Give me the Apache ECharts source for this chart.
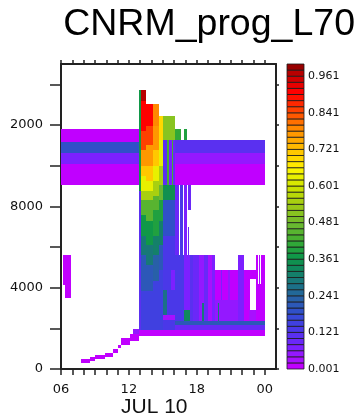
<!DOCTYPE html>
<html><head><meta charset="utf-8">
<script src="https://cdn.jsdelivr.net/npm/echarts@6/dist/echarts.min.js"></script>
<style>html,body{margin:0;padding:0;background:#fff}#c{width:362px;height:418px}</style>
</head><body><div id="c"></div>
<script>
// ---- tick labels ----
const xTickHours = [6,7,8,9,10,11,12,13,14,15,16,17,18,19,20,21,22,23,24];
const xLabelHours = [6,12,18,24];
const xLabelText = ['06','12','18','00'];
const yTickValues = [0,2000,4000,6000,8000,10000,12000,14000];
const yLabelValues = [0,4000,8000,12000];
const yLabelText = ['0','4000','8000','2000'];
const cbLabelIndex = [0,6,12,18,24,30,36,42,48];
const cbLabelText = ['0.001','0.121','0.241','0.361','0.481','0.601','0.721','0.841','0.961'];
const cbColors = ['#c000ff','#a810ff','#9418ff','#7c20ff','#6a28f8','#5a30f0','#4a38e8','#4040e0','#3848d8','#3050c8',
 '#2c58b8','#2860a8','#226898','#1c7088','#187878','#14806a','#10885c','#109050','#109848','#20a040',
 '#30a838','#48b030','#58b430','#68b830','#78bc28','#88c420','#98c818','#a8d010','#b8d808','#c8e000',
 '#d8e800','#e8f000','#f8f400','#ffe800','#ffd800','#ffc800','#ffb800','#ffa800','#ff9800','#ff8800',
 '#ff7000','#ff5800','#ff4000','#ff2800','#ff1000','#ff0000','#e80000','#d00000','#b80000','#980000'];
const cbBands = [0,1,2,3,4,5,6,7,8,9,10,11,12,13,14,15,16,17,18,19,20,21,22,23,24,25,26,27,28,29,30,31,32,33,34,35,36,37,38,39,40,41,42,43,44,45,46,47,48,49];

// ---- cells: [hourStart, hourEnd, zBottom(m), zTop(m), cloud fraction] ----
const leftBlob = [
 [6.2,6.9,4120,5590,0.01],
 [6.35,6.9,3480,4120,0.01]
];
const lowCloud = [
 [7.8,8.6,300,500,0.01],
 [8.6,9.0,390,590,0.01],
 [9.0,9.9,490,690,0.01],
 [9.9,10.6,600,800,0.01],
 [10.6,11.0,780,980,0.01],
 [11.05,11.3,1030,1180,0.01],
 [11.3,12.1,1180,1520,0.01],
 [12.1,12.9,1370,1720,0.01],
 [12.4,12.9,1720,1960,0.06]
];
const upperBandLeft = [
 [6.0,12.9,11180,11810,0.01],
 [6.0,12.9,10640,11180,0.19],
 [6.0,12.9,10100,10640,0.07],
 [6.0,12.9,9070,10100,0.01]
];
const upperBandRight = [
 [16.1,24.0,10640,11270,0.11],
 [16.1,24.0,10100,10640,0.05],
 [16.1,24.0,9070,10100,0.01]
];
const baseLayers = [
 [12.9,24.0,1600,1900,0.01],
 [16.1,24.0,1900,2150,0.1],
 [16.1,24.0,2150,2350,0.22]
];
const tower = [
 [12.9,13.05,8750,13700,0.38],
 [12.9,13.05,1900,8750,0.12],
 [13.05,13.5,13200,13700,0.97],
 [13.05,13.5,11700,13200,0.92],
 [13.05,13.5,10750,11700,0.86],
 [13.05,13.5,10000,10750,0.78],
 [13.05,13.5,9500,10000,0.72],
 [13.05,13.5,8750,9500,0.64],
 [13.05,13.5,8300,8750,0.56],
 [13.05,13.5,7550,8300,0.46],
 [13.05,13.5,6550,7550,0.38],
 [13.05,13.5,5600,6550,0.3],
 [13.05,13.5,3850,5600,0.22],
 [13.05,13.5,1900,3850,0.16],
 [13.5,14.1,11950,13050,0.92],
 [13.5,14.1,11000,11950,0.86],
 [13.5,14.1,10000,11000,0.78],
 [13.5,14.1,9250,10000,0.72],
 [13.5,14.1,8750,9250,0.64],
 [13.5,14.1,8300,8750,0.56],
 [13.5,14.1,7300,8300,0.46],
 [13.5,14.1,6100,7300,0.38],
 [13.5,14.1,5100,6100,0.3],
 [13.5,14.1,3850,5100,0.22],
 [13.5,14.1,1900,3850,0.15],
 [14.1,14.66,11950,13050,0.8],
 [14.1,14.66,10750,11950,0.78],
 [14.1,14.66,10000,10750,0.72],
 [14.1,14.66,9250,10000,0.64],
 [14.1,14.66,8500,9250,0.56],
 [14.1,14.66,7800,8500,0.46],
 [14.1,14.66,6550,7800,0.4],
 [14.1,14.66,5600,6550,0.32],
 [14.1,14.66,4350,5600,0.24],
 [14.1,14.66,1900,4350,0.16],
 [14.66,15.0,11250,12450,0.7],
 [14.66,15.0,10000,11250,0.64],
 [14.66,15.0,9050,10000,0.56],
 [14.66,15.0,8300,9050,0.48],
 [14.66,15.0,7300,8300,0.4],
 [14.66,15.0,6100,7300,0.32],
 [14.66,15.0,4850,6100,0.22],
 [14.66,15.0,1900,4850,0.15],
 [15.0,16.1,11250,12450,0.52],
 [15.0,15.4,9050,11250,0.12],
 [15.4,15.5,9050,11250,0.44],
 [15.5,15.8,9050,11250,0.08],
 [15.8,15.9,9050,11250,0.44],
 [15.9,16.1,9050,11250,0.1],
 [15.0,16.1,8300,9050,0.36],
 [15.0,16.1,6550,8300,0.2],
 [15.0,15.35,3870,6550,0.14],
 [15.0,15.35,2650,3870,0.28],
 [15.35,15.7,2650,6550,0.14],
 [15.7,16.1,4850,6550,0.14],
 [15.7,16.1,3870,4850,0.08],
 [15.7,16.1,2650,3870,0.14],
 [15.0,16.1,2400,2650,0.03],
 [15.0,16.1,1900,2400,0.14]
];
const rightMass = [
 [16.1,16.6,11270,11800,0.42],
 [16.9,17.1,11270,11800,0.4],
 [16.1,16.4,5600,9070,0.1],
 [16.5,16.8,5600,9070,0.13],
 [16.9,17.1,5600,9070,0.08],
 [17.2,17.5,7800,9070,0.1],
 [17.2,17.35,5600,7000,0.1],
 [16.1,16.9,2350,5600,0.13],
 [16.9,17.4,2900,5600,0.08],
 [16.9,17.4,2350,2900,0.33],
 [17.4,17.7,2350,5600,0.12],
 [17.7,18.2,2350,5600,0.1],
 [18.2,18.5,2350,5600,0.06],
 [18.5,18.6,3250,5600,0.06],
 [18.5,18.6,2350,3250,0.3],
 [18.6,19.0,2350,5600,0.09],
 [19.0,19.3,2350,5600,0.04],
 [19.3,19.6,2350,5600,0.07],
 [19.6,21.6,3400,4850,0.02],
 [19.6,21.6,2350,3400,0.06],
 [21.6,22.2,2350,5600,0.08],
 [22.2,22.6,2350,4850,0.02],
 [22.6,23.2,4450,4850,0.02],
 [22.6,22.7,2900,4450,0.02],
 [22.6,23.2,2350,2900,0.04],
 [23.2,24.0,2350,4200,0.02],
 [23.2,23.4,4200,5600,0.02],
 [23.5,23.6,4200,5600,0.03],
 [23.7,24.0,4200,5600,0.02]
];
const details = [
 [19.9,20.0,2350,3250,0.3],
 [20.1,20.2,3400,4850,0.07],
 [20.8,20.9,3400,4850,0.06]
];

const cells = [].concat(leftBlob, lowCloud, upperBandLeft, upperBandRight, baseLayers, tower, rightMass, details);

function colorFor(v){
  let i = Math.floor((v - 0.001) / 0.02);
  if (i < 0) i = 0; if (i > 49) i = 49;
  return cbColors[i];
}
function renderCell(params, api){
  const a = api.coord([api.value(0), api.value(3)]);
  const b = api.coord([api.value(1), api.value(2)]);
  const x0 = Math.round(a[0]), x1 = Math.round(b[0]);
  const y0 = Math.round(a[1]), y1 = Math.round(b[1]);
  return {type:'rect', shape:{x:x0, y:y0, width:Math.max(1, x1-x0), height:Math.max(1, y1-y0)},
          style:{fill: colorFor(api.value(4))}};
}
function renderBand(params, api){
  const i = api.value(0);
  const a = api.coord([0, i+1]);
  const b = api.coord([1, i]);
  return {type:'rect', shape:{x:a[0], y:a[1], width:b[0]-a[0], height:b[1]-a[1]},
          style:{fill: cbColors[i], stroke:'#1a1a1a', lineWidth:0.8}};
}

const axisCol = '#222';
const lblFont = {fontFamily:'DejaVu Sans', fontSize:13, color:'#111'};
const chart = echarts.init(document.getElementById('c'));
chart.setOption({
  animation:false,
  backgroundColor:'#fff',
  grid:[{left:61, top:64, width:215, height:305},{left:287, top:64, width:17, height:305}],
  xAxis:[
    {type:'value', gridIndex:0, position:'bottom', min:6, max:25,
     axisLine:{show:true, onZero:false, lineStyle:{color:axisCol, width:2}},
     axisTick:{show:true, customValues:xTickHours, length:6, lineStyle:{color:axisCol, width:1.5}},
     axisLabel:Object.assign({show:true, customValues:xLabelHours, margin:14,
       formatter:function(v){const k=xLabelHours.indexOf(v);return k<0?'':xLabelText[k];}}, lblFont),
     splitLine:{show:false}},
    {type:'value', gridIndex:0, position:'top', min:6, max:25,
     axisLine:{show:true, onZero:false, lineStyle:{color:axisCol, width:2}},
     axisTick:{show:true, customValues:xTickHours, length:4, lineStyle:{color:axisCol, width:1.5}},
     axisLabel:{show:false}, splitLine:{show:false}},
    {type:'value', gridIndex:1, min:0, max:1, show:false}
  ],
  yAxis:[
    {type:'value', gridIndex:0, position:'left', min:0, max:15000,
     axisLine:{show:true, onZero:false, lineStyle:{color:axisCol, width:2}},
     axisTick:{show:true, customValues:yTickValues, length:11, lineStyle:{color:axisCol, width:1.5}},
     axisLabel:Object.assign({show:true, customValues:yLabelValues, margin:18,
       formatter:function(v){const k=yLabelValues.indexOf(v);return k<0?'':yLabelText[k];}}, lblFont),
     splitLine:{show:false}},
    {type:'value', gridIndex:0, position:'right', min:0, max:15000,
     axisLine:{show:true, onZero:false, lineStyle:{color:axisCol, width:2}},
     axisTick:{show:true, customValues:yTickValues, length:3, lineStyle:{color:axisCol, width:1.5}},
     axisLabel:{show:false}, splitLine:{show:false}},
    {type:'value', gridIndex:1, position:'right', min:0, max:50,
     axisLine:{show:false}, axisTick:{show:false},
     axisLabel:{show:true, customValues:cbLabelIndex, margin:4, fontFamily:'DejaVu Sans', fontSize:11, color:'#111',
       formatter:function(v){const k=cbLabelIndex.indexOf(v);return k<0?'':cbLabelText[k];}},
     splitLine:{show:false}}
  ],
  series:[
    {type:'custom', xAxisIndex:0, yAxisIndex:0, renderItem:renderCell, data:cells,
     encode:{x:[0,1], y:[2,3]}, clip:true, silent:true},
    {type:'custom', xAxisIndex:2, yAxisIndex:2, renderItem:renderBand, data:cbBands.map(function(b){return [b];}),
     encode:{y:0}, silent:true}
  ],
  graphic:[
    {type:'text', right:7, top:6, style:{text:'CNRM_prog_L70', font:'37.5px "Liberation Sans", Arial, sans-serif', fill:'#000'}},
    {type:'text', left:121, top:397, style:{text:'JUL 10', font:'21px "Liberation Sans", Arial, sans-serif', fill:'#111'}}
  ]
});
</script></body></html>
